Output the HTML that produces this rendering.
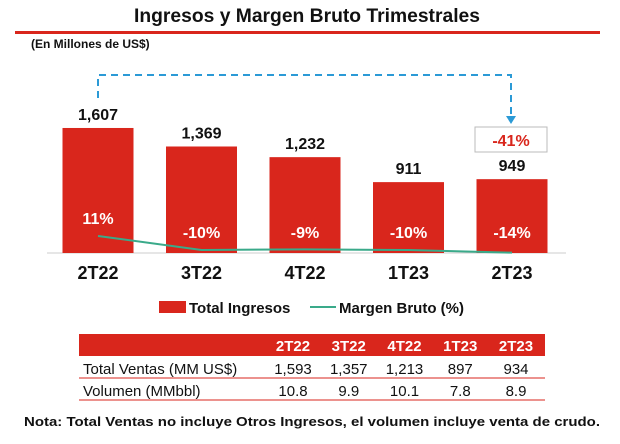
<!DOCTYPE html>
<html><head><meta charset="utf-8"><style>
body{margin:0;background:#fff;font-family:"Liberation Sans",Arial,sans-serif}
svg text{font-family:"Liberation Sans",Arial,sans-serif}
</style></head><body>
<svg width="620" height="439" viewBox="0 0 620 439">
<text x="307" y="22" text-anchor="middle" font-size="19" font-weight="bold" fill="#111" textLength="346" lengthAdjust="spacingAndGlyphs">Ingresos y Margen Bruto Trimestrales</text>
<rect x="15" y="31" width="585" height="3" fill="#d9261c"/>
<text x="31" y="48" font-size="12" font-weight="bold" fill="#111">(En Millones de US$)</text>
<g>
<path d="M98 98 V75 H511 V116" fill="none" stroke="#2b9ad6" stroke-width="2" stroke-dasharray="7,5"/>
<polygon points="506,116 516,116 511,124" fill="#2b9ad6"/>
</g>
<rect x="475" y="127" width="72" height="25" fill="#fff" stroke="#bbb"/>
<text x="511" y="146" text-anchor="middle" font-size="16" font-weight="bold" fill="#d9261c">-41%</text>
<line x1="47" y1="253" x2="566" y2="253" stroke="#ccc"/>
<g id="bars"></g><g id="line"></g><g id="labels"></g>
<g>
<rect x="159" y="301" width="27" height="12" fill="#d9261c"/>
<text x="189" y="313" font-size="15" font-weight="bold" fill="#111">Total Ingresos</text>
<line x1="310" y1="307" x2="336" y2="307" stroke="#3aaa8a" stroke-width="2"/>
<text x="339" y="313" font-size="15" font-weight="bold" fill="#111">Margen Bruto (%)</text>
</g>
<g>
<rect x="79" y="334" width="466" height="22" fill="#d9261c"/>
<line x1="79" y1="378" x2="545" y2="378" stroke="#d9261c"/>
<line x1="79" y1="400" x2="545" y2="400" stroke="#d9261c"/>
<text x="83" y="374" font-size="15" fill="#111">Total Ventas (MM US$)</text>
<text x="83" y="396" font-size="15" fill="#111">Volumen (MMbbl)</text>
<g id="tbl"></g>
</g>
<text x="312" y="426" text-anchor="middle" font-size="13" font-weight="bold" fill="#111" textLength="576" lengthAdjust="spacingAndGlyphs">Nota: Total Ventas no incluye Otros Ingresos, el volumen incluye venta de crudo.</text>
</svg>
<script>
const categories=["2T22","3T22","4T22","1T23","2T23"];
const ingresos=[1607,1369,1232,911,949];
const margen=[11,-10,-9,-10,-14];
const ventas=["1,593","1,357","1,213","897","934"];
const volumen=["10.8","9.9","10.1","7.8","8.9"];
const NS="http://www.w3.org/2000/svg";
function mk(t,a,p){const e=document.createElementNS(NS,t);for(const k in a)e.setAttribute(k,a[k]);p.appendChild(e);return e;}
const base=253, bw=71;
function xc(i){return 98+i*103.5;}
function yv(v){return base-v*0.0778;}
function ym(m){return 250-(m+10)*0.667;}
const bars=document.getElementById('bars'),lab=document.getElementById('labels'),ln=document.getElementById('line'),tbl=document.getElementById('tbl');
let pts=[];
categories.forEach((c,i)=>{
 const x=xc(i);
 const r=mk('rect',{x:x-bw/2,y:yv(ingresos[i]),width:bw,height:base-yv(ingresos[i]),fill:'#d9261c'},bars);
 
 
 const t=mk('text',{x:x,y:yv(ingresos[i])-8,'text-anchor':'middle','font-size':16,'font-weight':'bold',fill:'#111'},lab);t.textContent=ingresos[i].toLocaleString('en-US');
 
 
 const py=i==0?224:238;
 const p=mk('text',{x:x,y:py,'text-anchor':'middle','font-size':16,'font-weight':'bold',fill:'#fff'},lab);p.textContent=margen[i]+'%';
 
 
 const cl=mk('text',{x:x,y:279,'text-anchor':'middle','font-size':18,'font-weight':'bold',fill:'#111'},lab);cl.textContent=c;
 
 
 pts.push(x+','+ym(margen[i]));
 const tx=293+i*55.75;
 const h=mk('text',{x:tx,y:351,'text-anchor':'middle','font-size':15,'font-weight':'bold',fill:'#fff'},tbl);h.textContent=c;
 
 
 const v=mk('text',{x:tx,y:374,'text-anchor':'middle','font-size':15,fill:'#111'},tbl);v.textContent=ventas[i];
 
 
 const w=mk('text',{x:tx,y:396,'text-anchor':'middle','font-size':15,fill:'#111'},tbl);w.textContent=volumen[i];
 
 
});
const pl=mk('polyline',{points:pts.join(' '),fill:'none',stroke:'#3aaa8a','stroke-width':2},ln);


</script>
</body></html>
